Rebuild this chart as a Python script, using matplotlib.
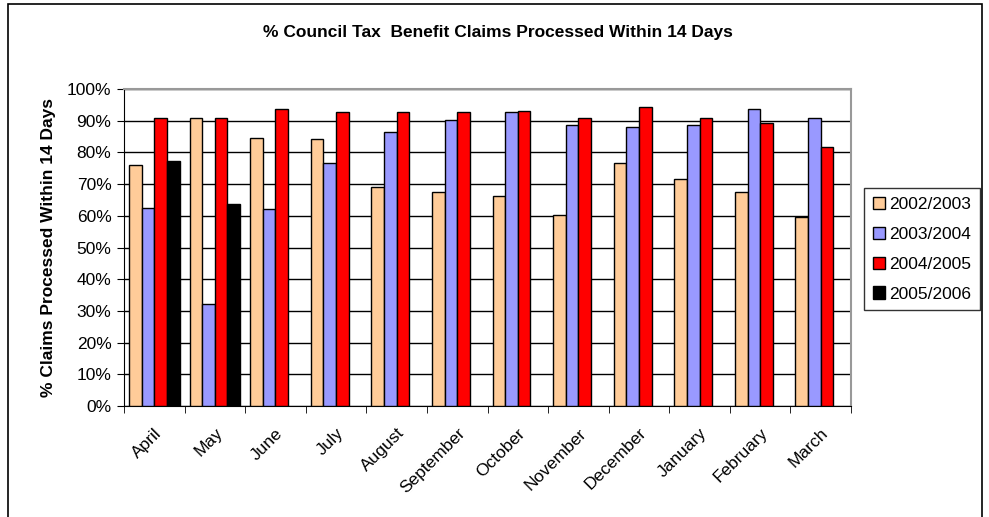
import numpy as np
import matplotlib
matplotlib.use("Agg")
import matplotlib.pyplot as plt
import matplotlib.transforms as mtransforms
from matplotlib.patches import Rectangle

plt.rcParams["font.family"] = ["Liberation Sans", "DejaVu Sans"]

months = ["April", "May", "June", "July", "August", "September", "October",
          "November", "December", "January", "February", "March"]
series = ["2002/2003", "2003/2004", "2004/2005", "2005/2006"]
v0203 = [76.1, 90.8, 84.7, 84.1, 69.2, 67.4, 66.4, 60.1, 76.6, 71.5, 67.4, 59.6]
v0304 = [62.6, 32.2, 62.0, 76.7, 86.4, 90.3, 92.6, 88.5, 88.0, 88.5, 93.7, 90.8]
v0405 = [90.8, 90.8, 93.7, 92.6, 92.6, 92.6, 93.2, 90.8, 94.3, 90.8, 89.3, 81.8]
v0506 = [77.4, 63.8, None, None, None, None, None, None, None, None, None, None]
colors = ["#FFCC99", "#9999FF", "#FF0000", "#000000"]

fig = plt.figure(figsize=(9.89, 5.17), dpi=100)
ax = fig.add_axes([124 / 989, 1 - 406 / 517, 727 / 989, 317 / 517])

# outer chart border
fig.patches.append(Rectangle((8 / 989, -0.02), 974 / 989, 1 - 4 / 517 + 0.02,
                             transform=fig.transFigure, fill=False,
                             edgecolor="black", linewidth=1.2))

x = np.arange(len(months))
w = 1 / 4.8
for i, (vals, c, lab) in enumerate(zip([v0203, v0304, v0405, v0506], colors, series)):
    h = [np.nan if v is None else v for v in vals]
    ax.bar(x - 1.5 * w + i * w, h, width=w, color=c, edgecolor="black",
           linewidth=1.0, label=lab, zorder=3)

ax.set_xlim(-0.5, len(months) - 0.5)
ax.set_ylim(0, 100)
ax.set_yticks(np.arange(0, 101, 10))
ax.set_yticklabels([f"{t}%" for t in range(0, 101, 10)], fontsize=12.5)
ax.set_xticks(x)
ax.set_xticklabels(months, rotation=45, ha="right", rotation_mode="anchor",
                   fontsize=12.5)
shift = mtransforms.ScaledTranslation(-9 / 100, -3 / 100, fig.dpi_scale_trans)
for lbl in ax.get_xticklabels():
    lbl.set_transform(lbl.get_transform() + shift)
ax.set_xticks(np.arange(-0.5, len(months)), minor=True)
ax.tick_params(axis="x", which="major", length=0, pad=14)
ax.tick_params(axis="x", which="minor", length=5, direction="out")
ax.tick_params(axis="y", length=5, direction="out", pad=4)
ax.grid(axis="y", color="black", linewidth=1.0, zorder=0)

for s in ["top", "right"]:
    ax.spines[s].set_color("#999999")
    ax.spines[s].set_linewidth(1.5)
ax.spines["left"].set_color("black")
ax.spines["bottom"].set_color("black")

ax.set_ylabel("% Claims Processed Within 14 Days", fontsize=12.5,
              fontweight="bold", labelpad=8)
fig.text(498 / 989, 1 - 32 / 517, "% Council Tax  Benefit Claims Processed Within 14 Days",
         ha="center", va="center", fontsize=12.5, fontweight="bold")

leg = ax.legend(loc="upper left", bbox_to_anchor=(864 / 989, 1 - 188 / 517),
                bbox_transform=fig.transFigure, fontsize=12.5, frameon=True,
                fancybox=False, edgecolor="black", handlelength=0.7,
                handleheight=0.7, handletextpad=0.25, borderpad=0.5,
                labelspacing=0.85, borderaxespad=0)
leg.get_frame().set_linewidth(1.0)

fig.savefig("out.png", dpi=100)
